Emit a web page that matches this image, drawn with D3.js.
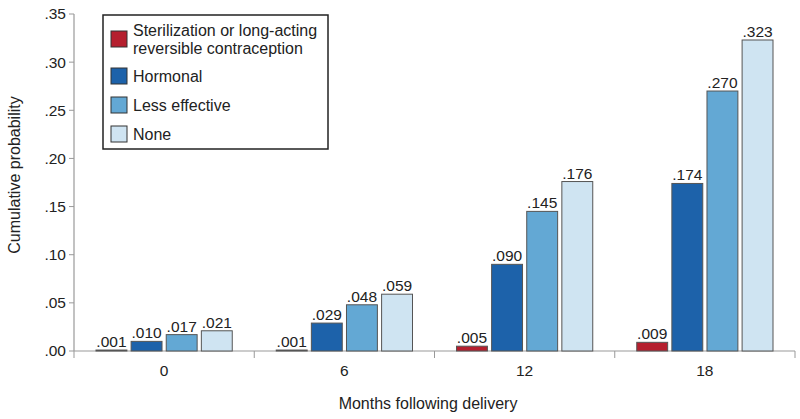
<!DOCTYPE html>
<html>
<head>
<meta charset="utf-8">
<script src="https://cdn.jsdelivr.net/npm/d3@7"></script>
<style>
  body { margin: 0; background: #fff; }
  text { font-family: "Liberation Sans", Arial, sans-serif; fill: #222; }
</style>
</head>
<body>
<svg width="800" height="419"></svg>
<script>
// months after delivery
var months = ["0", "6", "12", "18"];
var methods = ["Sterilization or long-acting reversible contraception", "Hormonal", "Less effective", "None"];
var sterilization = [0.001, 0.001, 0.005, 0.009];
var hormonal = [0.010, 0.029, 0.090, 0.174];
var lessEffective = [0.017, 0.048, 0.145, 0.270];
var none = [0.021, 0.059, 0.176, 0.323];
var yTicks = [0, 0.05, 0.10, 0.15, 0.20, 0.25, 0.30, 0.35];

var colors = ["#b51f2e", "#1d62aa", "#63a8d4", "#cfe4f2"];
var series = [sterilization, hormonal, lessEffective, none];

var svg = d3.select("svg"),
    margin = {top: 14, right: 5, bottom: 68, left: 74},
    width = svg.attr("width") - margin.left - margin.right,
    height = svg.attr("height") - margin.top - margin.bottom;

var g = svg.append("g")
    .attr("transform", "translate(" + margin.left + "," + margin.top + ")");

var x0 = d3.scaleBand().domain(months).range([0, width]);
var x1 = d3.scaleBand().domain(d3.range(4)).range([22, x0.bandwidth() - 22]).paddingInner(0.12);
var y = d3.scaleLinear().domain([0, 0.35]).range([height, 0]);

var fmt = function(v) { return d3.format(".3f")(v).replace(/^0/, ""); };

// y axis
g.append("line").attr("x1", 0).attr("x2", 0).attr("y1", 0).attr("y2", height)
    .attr("stroke", "#999").attr("stroke-width", 1.2);
var yt = g.selectAll(".yt").data(yTicks).enter().append("g")
    .attr("transform", d => "translate(0," + y(d) + ")");
yt.append("line").attr("x1", -5).attr("x2", 0).attr("stroke", "#999");
yt.append("text").attr("x", -8).attr("dy", "0.35em").attr("text-anchor", "end")
    .style("font-size", "15.5px").text(d => d3.format(".2f")(d).replace(/^0/, ""));

// x axis
g.append("line").attr("x1", 0).attr("x2", width).attr("y1", height).attr("y2", height)
    .attr("stroke", "#999").attr("stroke-width", 1.2);
var bounds = months.map(m => x0(m)).concat([width]);
g.selectAll(".xt").data(bounds).enter().append("line")
    .attr("x1", d => d).attr("x2", d => d).attr("y1", height).attr("y2", height + 7)
    .attr("stroke", "#999");
g.selectAll(".xl").data(months).enter().append("text")
    .attr("x", d => x0(d) + x0.bandwidth() / 2).attr("y", height + 25)
    .attr("text-anchor", "middle").style("font-size", "15.5px").text(d => d);

// bars
var grp = g.selectAll(".grp").data(months).enter().append("g")
    .attr("transform", d => "translate(" + x0(d) + ",0)");
grp.each(function(m, mi) {
  var sel = d3.select(this);
  series.forEach(function(s, si) {
    var v = s[mi];
    sel.append("rect")
        .attr("x", x1(si)).attr("width", x1.bandwidth())
        .attr("y", y(v)).attr("height", height - y(v))
        .attr("fill", colors[si]).attr("stroke", "#555").attr("stroke-width", 1);
    sel.append("text")
        .attr("x", x1(si) + x1.bandwidth() / 2).attr("y", y(v) - 3)
        .attr("text-anchor", "middle").style("font-size", "15.5px").text(fmt(v));
  });
});

// axis titles
svg.append("text").attr("transform", "translate(20," + 175 + ") rotate(-90)")
    .attr("text-anchor", "middle").style("font-size", "16px").text("Cumulative probability");
svg.append("text").attr("x", 428).attr("y", 409)
    .attr("text-anchor", "middle").style("font-size", "16px").text("Months following delivery");

// legend
var leg = svg.append("g").attr("transform", "translate(103,15)");
leg.append("rect").attr("width", 225).attr("height", 134)
    .attr("fill", "#fff").attr("stroke", "#222").attr("stroke-width", 1.5);
var legY = [16, 53, 82, 111];
methods.forEach(function(name, i) {
  leg.append("rect").attr("x", 8).attr("y", legY[i]).attr("width", 16).attr("height", 16)
      .attr("fill", colors[i]).attr("stroke", "#333");
  var t = leg.append("text").attr("x", 30).style("font-size", "16px");
  if (i == 0) {
    t.append("tspan").attr("x", 30).attr("y", 21).text("Sterilization or long-acting");
    t.append("tspan").attr("x", 30).attr("y", 39).text("reversible contraception");
  } else {
    t.attr("y", legY[i] + 14).text(name);
  }
});
</script>
</body>
</html>
